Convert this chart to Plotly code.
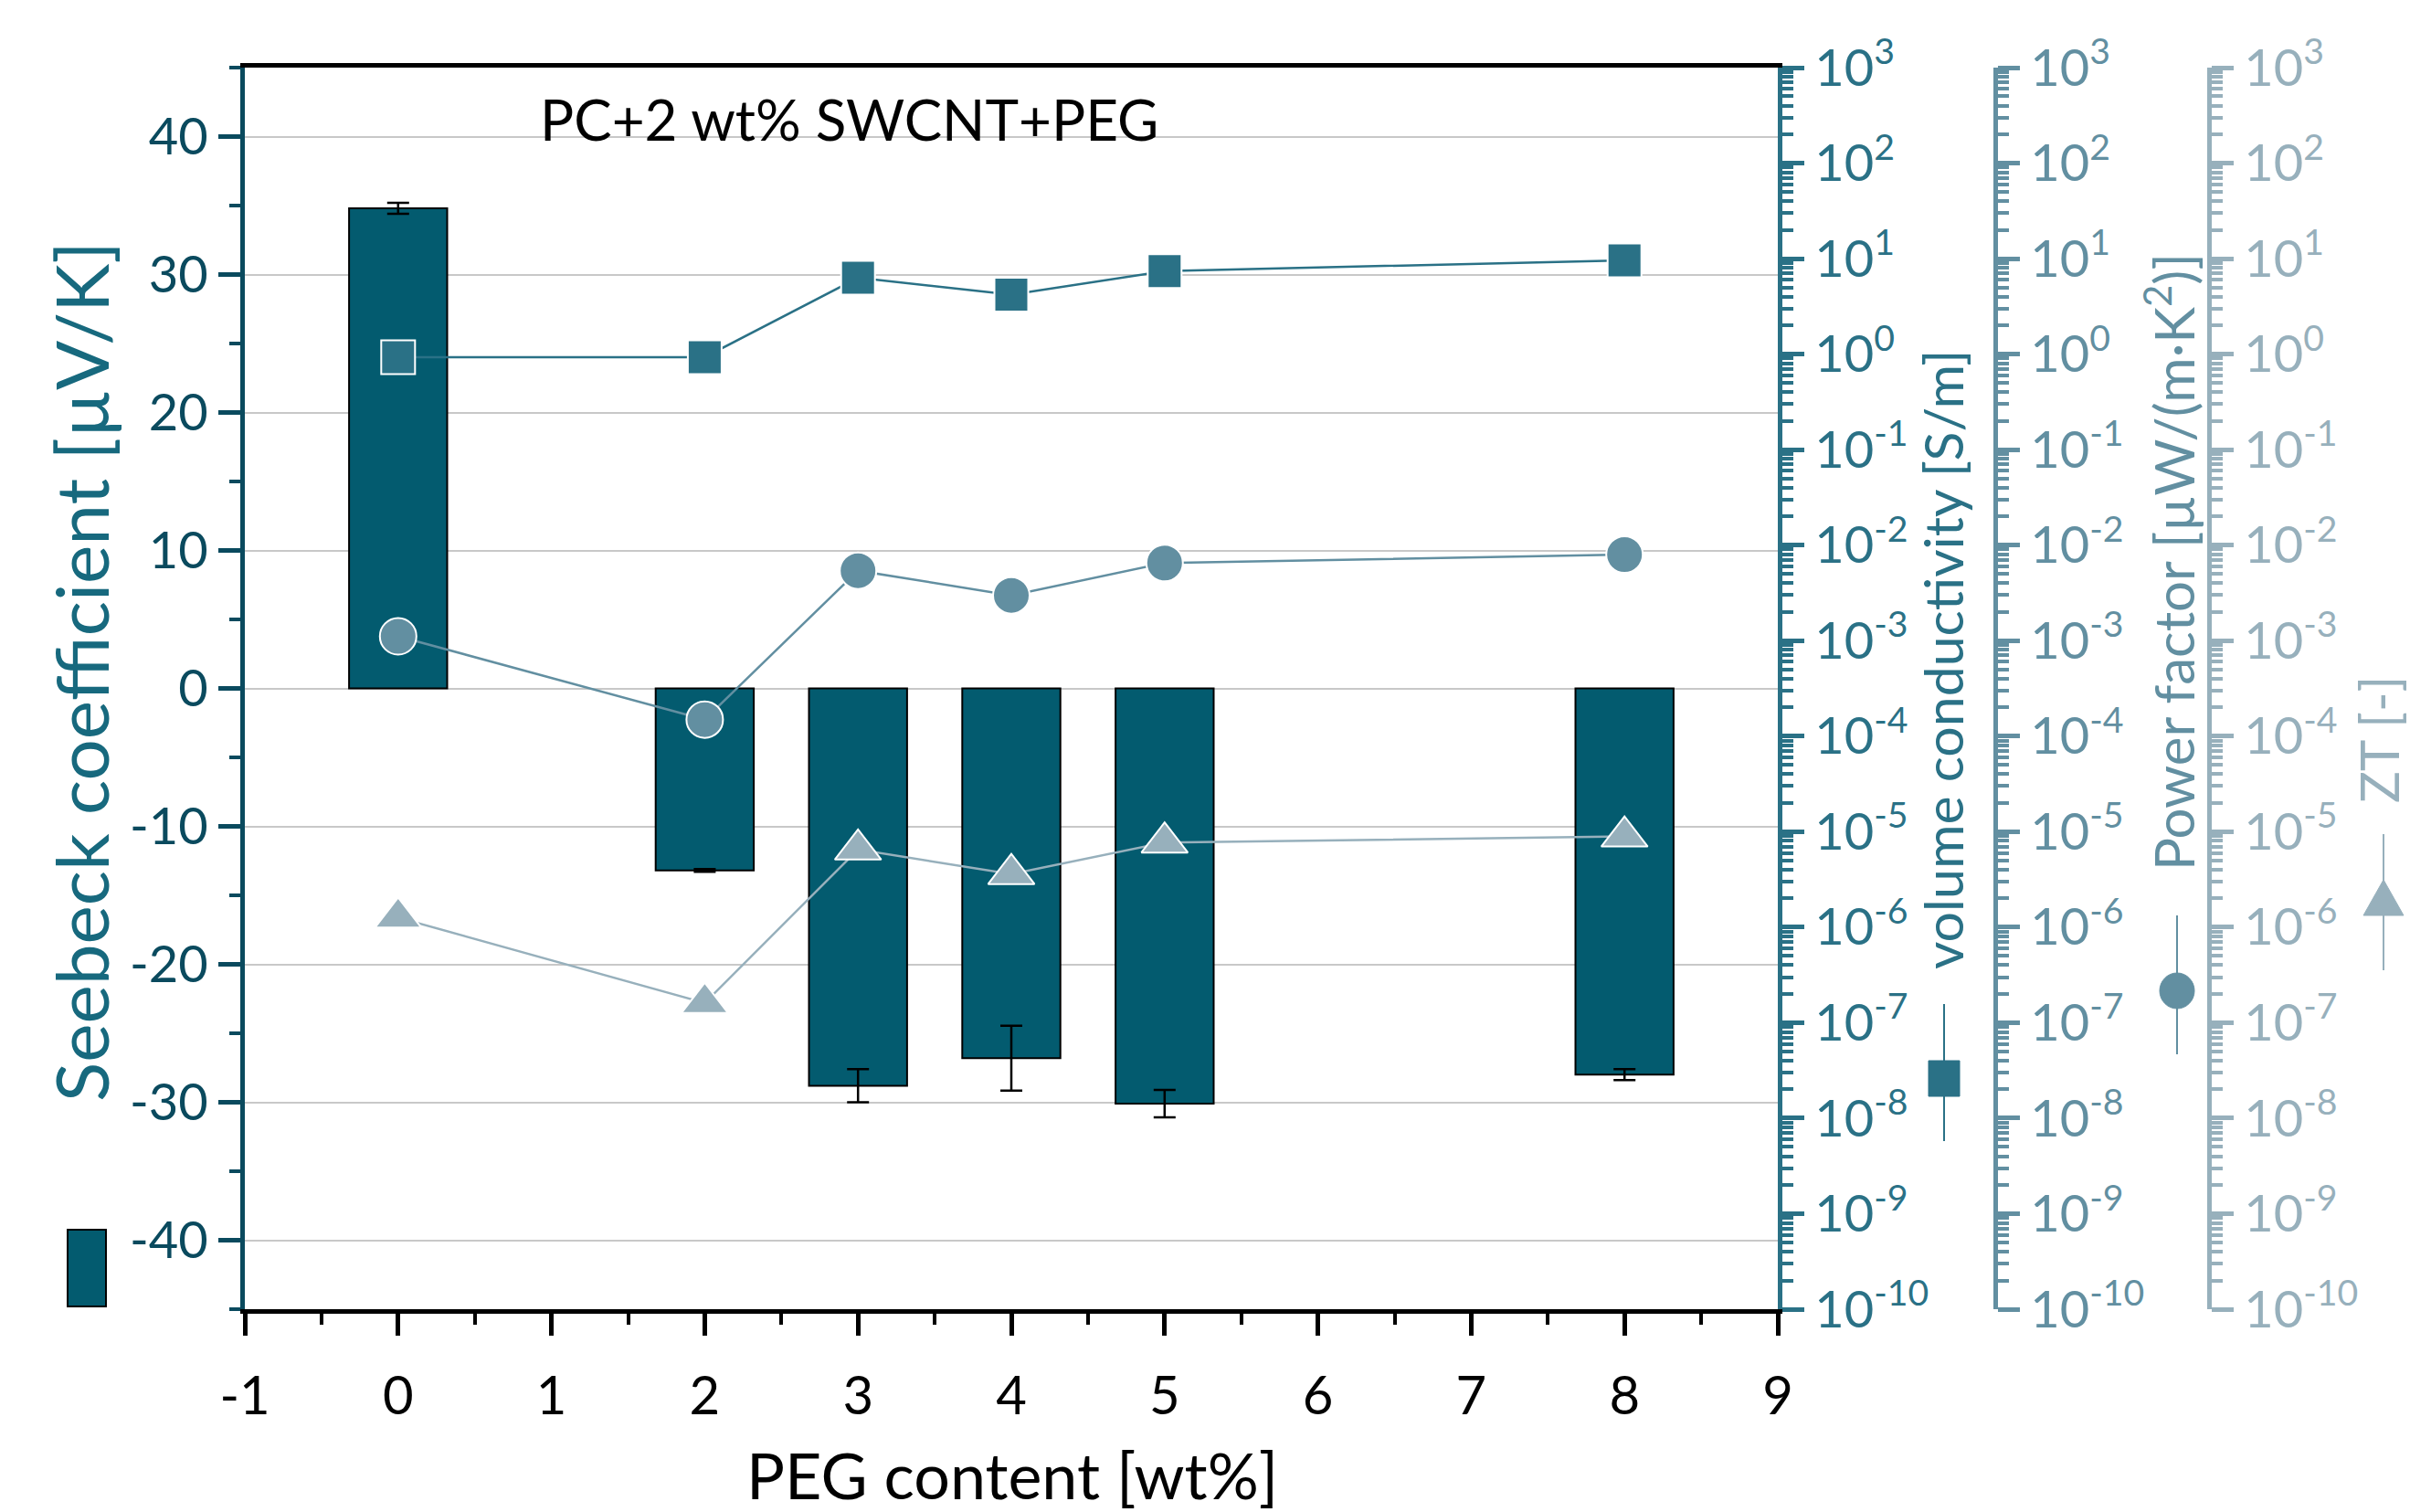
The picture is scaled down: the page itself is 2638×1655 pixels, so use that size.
import plotly.graph_objects as go

# ---------------- data ----------------
peg_content = [0, 2, 3, 4, 5, 8]
seebeck = [34.8, -13.2, -28.8, -26.8, -30.1, -28.0]
seebeck_err = [0.4, 0.1, 1.2, 2.35, 1.0, 0.4]
conductivity = [0.93, 0.93, 6.3, 4.2, 7.4, 9.6]
power_factor = [1.11e-3, 1.49e-4, 5.4e-3, 2.98e-3, 6.5e-3, 7.96e-3]
zt_values = [1.26e-6, 1.61e-7, 6.5e-6, 3.6e-6, 7.7e-6, 8.9e-6]

x_tick_vals = [-1, 0, 1, 2, 3, 4, 5, 6, 7, 8, 9]
x_tick_text = ["-1", "0", "1", "2", "3", "4", "5", "6", "7", "8", "9"]
seebeck_tick_vals = [-40, -30, -20, -10, 0, 10, 20, 30, 40]
seebeck_tick_text = ["-40", "-30", "-20", "-10", "0", "10", "20", "30", "40"]
log_exponents = [-10, -9, -8, -7, -6, -5, -4, -3, -2, -1, 0, 1, 2, 3]

# ---------------- style ----------------
W, H = 2638, 1655
FONT = "Lato"
C_BAR = "#035b6f"
C_LEFT = "#0a4a5e"
C_LEFT_TITLE = "#17697e"
C_SQ = "#2a7186"
C_CI = "#628fa1"
C_TR = "#97b0bc"
GRID = "#c8c8c8"


def px(x):
    return x / W


def py(y):
    return 1 - y / H


log_tick_vals = [10.0 ** e for e in log_exponents]
log_tick_text = ["10<sup>%d</sup>" % e for e in log_exponents]
log_minor_vals = [m * 10.0 ** e for e in log_exponents[:-1] for m in range(2, 10)]

fig = go.Figure()

fig.add_trace(go.Bar(
    x=peg_content, y=seebeck, width=0.64,
    marker=dict(color=C_BAR, line=dict(color="black", width=2)),
    error_y=dict(type="data", array=seebeck_err, color="black", thickness=2.5, width=12),
    showlegend=False,
))

fig.add_trace(go.Scatter(
    x=peg_content, y=conductivity, yaxis="y2", mode="lines+markers",
    line=dict(color=C_SQ, width=2.5),
    marker=dict(symbol="square", size=37, color=C_SQ, line=dict(color="white", width=2)),
    showlegend=False,
))
fig.add_trace(go.Scatter(
    x=peg_content, y=power_factor, yaxis="y3", mode="lines+markers",
    line=dict(color=C_CI, width=2.5),
    marker=dict(symbol="circle", size=40, color=C_CI, line=dict(color="white", width=2)),
    showlegend=False,
))
fig.add_trace(go.Scatter(
    x=peg_content, y=zt_values, yaxis="y4", mode="lines+markers",
    line=dict(color=C_TR, width=2.5),
    marker=dict(symbol="triangle-up", size=44, color=C_TR, line=dict(color="white", width=2)),
    showlegend=False,
))

x0d, x1d = px(268), px(1946)
y0d, y1d = py(1433), py(74)


def log_axis(color, **kw):
    d = dict(
        type="log", range=[-10, 3], side="right", overlaying="y",
        showgrid=False, zeroline=False,
        showline=True, linecolor=color, linewidth=5,
        ticks="outside", ticklen=24, tickwidth=4.5, tickcolor=color,
        tickmode="array", tickvals=log_tick_vals, ticktext=log_tick_text,
        tickfont=dict(family=FONT, size=56, color=color),
        minor=dict(tickmode="array", tickvals=log_minor_vals, ticks="outside",
                   ticklen=12, tickwidth=4, tickcolor=color),
        automargin=False,
    )
    d.update(kw)
    return d


fig.update_layout(
    template="none",
    width=W, height=H,
    margin=dict(l=0, r=0, t=0, b=0),
    paper_bgcolor="white", plot_bgcolor="white",
    showlegend=False,
    font=dict(family=FONT),
    xaxis=dict(
        domain=[x0d, x1d], range=[-1, 9],
        tickmode="array", tickvals=x_tick_vals, ticktext=x_tick_text,
        tickfont=dict(family=FONT, size=58, color="black"),
        ticks="outside", ticklen=24, tickwidth=4.5, tickcolor="black",
        ticklabelstandoff=16,
        minor=dict(dtick=0.5, tick0=-1, ticks="outside", ticklen=12, tickwidth=4, tickcolor="black"),
        showline=True, linecolor="black", linewidth=5, mirror=True,
        showgrid=False, zeroline=False, automargin=False,
    ),
    yaxis=dict(
        domain=[y0d, y1d], range=[-45, 45],
        tickmode="array", tickvals=seebeck_tick_vals, ticktext=seebeck_tick_text,
        tickfont=dict(family=FONT, size=56, color=C_LEFT),
        ticks="outside", ticklen=24, tickwidth=4.5, tickcolor=C_LEFT,
        minor=dict(dtick=5, tick0=-45, ticks="outside", ticklen=12, tickwidth=4, tickcolor=C_LEFT),
        showline=True, linecolor=C_LEFT, linewidth=5,
        showgrid=True, gridcolor=GRID, gridwidth=2,
        zeroline=False, automargin=False,
    ),
    yaxis2=log_axis(C_SQ, anchor="x"),
    yaxis3=log_axis(C_CI, anchor="free", position=px(2184)),
    yaxis4=log_axis(C_TR, anchor="free", position=px(2418)),
)

annotations = [
    dict(text="PC+2 wt% SWCNT+PEG", x=px(929), y=py(130), font=dict(size=62, color="black")),
    dict(text="PEG content [wt%]", x=px(1108), y=py(1614), font=dict(size=70, color="black")),
    dict(text="Seebeck coefficient [µV/K]", x=px(88), y=py(735), textangle=-90,
         font=dict(size=80, color=C_LEFT_TITLE)),
    dict(text="volume conductivity [S/m]", x=px(2126), y=py(722), textangle=-90,
         font=dict(size=59, color=C_SQ)),
    dict(text="Power factor [µW/(m·K<sup>2</sup>)]", x=px(2375), y=py(615), textangle=-90,
         font=dict(size=60, color=C_CI)),
    dict(text="ZT [-]", x=px(2604), y=py(810), textangle=-90,
         font=dict(size=58, color=C_TR)),
]
for a in annotations:
    a.update(xref="paper", yref="paper", showarrow=False, xanchor="center", yanchor="middle")
    a["font"]["family"] = FONT
fig.update_layout(annotations=annotations)

shapes = [
    # bar legend glyph
    dict(type="rect", x0=px(74), x1=px(116), y0=py(1430), y1=py(1346),
         fillcolor=C_BAR, line=dict(color="black", width=2)),
    # conductivity glyph
    dict(type="line", x0=px(2128), x1=px(2128), y0=py(1249), y1=py(1099),
         line=dict(color=C_SQ, width=2)),
    dict(type="rect", x0=px(2111), x1=px(2145), y0=py(1200), y1=py(1161),
         fillcolor=C_SQ, line=dict(color=C_SQ, width=1)),
    # power factor glyph
    dict(type="line", x0=px(2383), x1=px(2383), y0=py(1154), y1=py(1002),
         line=dict(color=C_CI, width=2)),
    dict(type="circle", x0=px(2364), x1=px(2402), y0=py(1104), y1=py(1065),
         fillcolor=C_CI, line=dict(color=C_CI, width=1)),
    # ZT glyph
    dict(type="line", x0=px(2609), x1=px(2609), y0=py(1062), y1=py(913),
         line=dict(color=C_TR, width=2)),
    dict(type="path",
         path="M %f,%f L %f,%f L %f,%f Z" % (px(2609), py(963), px(2587), py(1002), px(2631), py(1002)),
         fillcolor=C_TR, line=dict(color=C_TR, width=1)),
]
for s in shapes:
    s.update(xref="paper", yref="paper")
fig.update_layout(shapes=shapes)

fig.write_html("out.html")
